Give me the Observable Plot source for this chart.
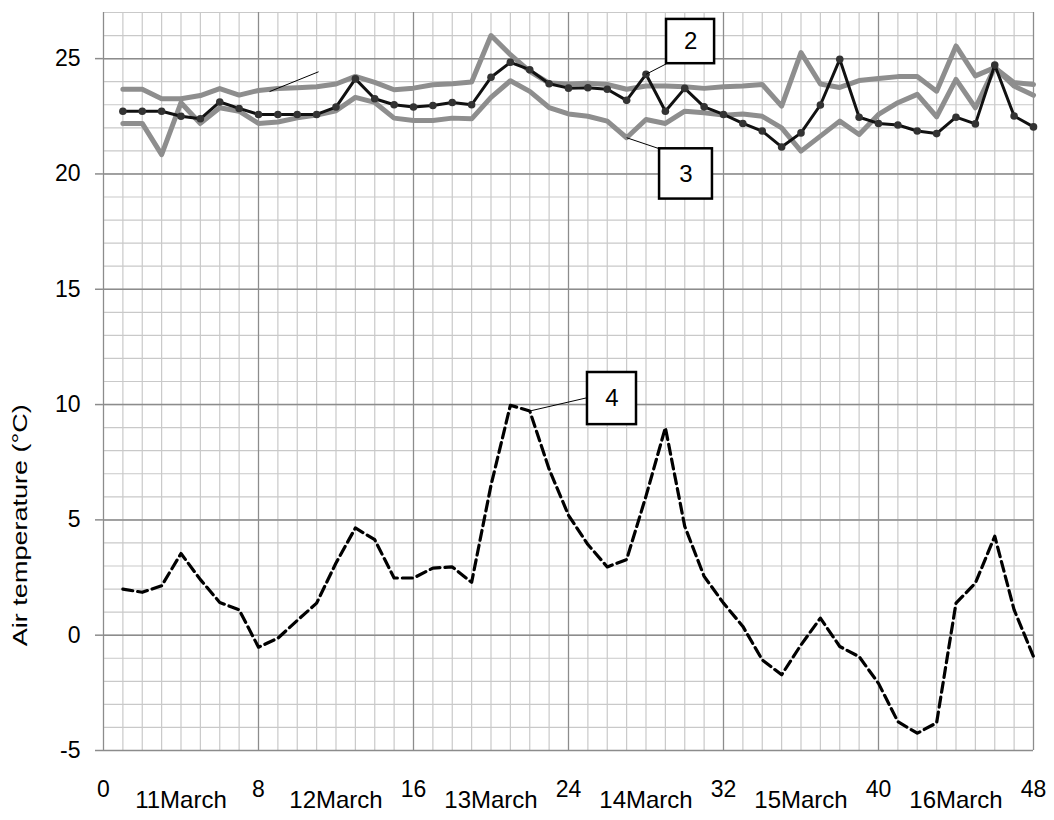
<!DOCTYPE html>
<html>
<head>
<meta charset="utf-8">
<script src="https://cdn.jsdelivr.net/npm/d3@7"></script>
<script src="https://cdn.jsdelivr.net/npm/@observablehq/plot@0.6"></script>
<style>
  html, body { margin: 0; padding: 0; background: #fff; }
  #chart { width: 1054px; height: 820px; }
</style>
</head>
<body>
<div id="chart"></div>
<script>
// ---- data (hours 1..48, 11–16 March) ----
const hours = d3.range(1, 49);

// series 1: upper grey line
const series1 = [23.67, 23.67, 23.26, 23.26, 23.4, 23.7, 23.42, 23.62, 23.7, 23.74, 23.78, 23.9,
                 24.23, 23.97, 23.65, 23.72, 23.87, 23.91, 23.99, 26.0, 25.17, 24.45, 23.94, 23.9,
                 23.93, 23.88, 23.67, 23.81, 23.81, 23.78, 23.71, 23.78, 23.81, 23.88, 22.94, 25.26,
                 23.9, 23.75, 24.05, 24.14, 24.22, 24.22, 23.59, 25.55, 24.25, 24.61, 23.96, 23.88];
// series 2: black line with markers
const series2 = [22.72, 22.72, 22.72, 22.5, 22.39, 23.12, 22.84, 22.58, 22.58, 22.58, 22.58, 22.9,
                 24.12, 23.26, 23.0, 22.9, 22.97, 23.1, 23.0, 24.19, 24.84, 24.52, 23.91, 23.72,
                 23.74, 23.67, 23.19, 24.32, 22.72, 23.71, 22.91, 22.58, 22.19, 21.86, 21.17, 21.78,
                 22.99, 24.97, 22.46, 22.19, 22.12, 21.86, 21.75, 22.46, 22.17, 24.72, 22.51, 22.04];
// series 3: lower grey line
const series3 = [22.19, 22.19, 20.84, 23.09, 22.19, 22.87, 22.72, 22.19, 22.25, 22.43, 22.55, 22.74,
                 23.32, 23.1, 22.42, 22.32, 22.32, 22.42, 22.39, 23.32, 24.04, 23.58, 22.88, 22.6,
                 22.5, 22.29, 21.57, 22.36, 22.19, 22.72, 22.65, 22.55, 22.6, 22.5, 22.0, 20.99,
                 21.64, 22.29, 21.71, 22.58, 23.09, 23.45, 22.48, 24.1, 22.87, 24.61, 23.81, 23.41];
// series 4: outdoor air temperature (dashed)
const series4 = [2.0, 1.86, 2.14, 3.54, 2.41, 1.42, 1.1, -0.52, -0.13, 0.64, 1.39, 3.13,
                 4.65, 4.14, 2.48, 2.48, 2.91, 2.96, 2.29, 6.5, 9.97, 9.72, 7.2, 5.2,
                 3.93, 2.96, 3.28, 6.03, 9.0, 4.72, 2.55, 1.39, 0.38, -1.07, -1.72, -0.42,
                 0.74, -0.49, -0.93, -2.09, -3.75, -4.25, -3.8, 1.39, 2.26, 4.29, 1.1, -0.93];

const xTicks = [0, 8, 16, 24, 32, 40, 48];
const yTicks = [-5, 0, 5, 10, 15, 20, 25];
const dayLabels = ["11March", "12March", "13March", "14March", "15March", "16March"];
const dayCenters = [4, 12, 20, 28, 36, 44];
const yTitle = "Air temperature (°C)";
const yTitleAt = 4.77;

// callout boxes (labels 2, 3, 4) and their leader lines (the last leader has no box)
const boxLabels = ["2", "3", "4"];
const boxX1 = [29.06, 28.7, 24.98];
const boxX2 = [31.54, 31.43, 27.51];
const boxY1 = [24.78, 18.91, 9.13];
const boxY2 = [26.7, 21.09, 11.39];
const leadX1 = [28, 27, 22, 8.57];
const leadY1 = [24.32, 21.57, 9.72, 23.57];
const leadX2 = [29.06, 28.7, 24.98, 11.1];
const leadY2 = [24.78, 21.09, 10.3, 24.43];

// ---- build ----
const rows = (vals) => vals.map((v, i) => ({hour: hours[i], temp: v}));
const s1 = rows(series1), s2 = rows(series2), s3 = rows(series3), s4 = rows(series4);
const boxIdx = d3.range(boxLabels.length);
const leadIdx = d3.range(leadX1.length);
const plain = d => `${d}`;

const chart = Plot.plot({
  width: 1054,
  height: 820,
  marginLeft: 103,
  marginRight: 21,
  marginTop: 12,
  marginBottom: 70,
  style: {fontFamily: "'Liberation Sans', Arial, sans-serif", fontSize: "23px", background: "#fff", color: "#000"},
  x: {domain: [0, 48], ticks: xTicks, tickSize: 0, tickPadding: 30, label: null, tickFormat: plain},
  y: {domain: [-5, 27], ticks: yTicks, tickSize: 8, tickPadding: 15, label: null, tickFormat: plain},
  marks: [
    Plot.ruleX(d3.range(0, 49), {stroke: "#c9c9c9", strokeWidth: 1.2}),
    Plot.ruleY(d3.range(-5, 28), {stroke: "#c9c9c9", strokeWidth: 1.2}),
    Plot.ruleX(xTicks, {stroke: "#8c8c8c", strokeWidth: 1.2}),
    Plot.ruleY(yTicks, {stroke: "#8c8c8c", strokeWidth: 1.5}),
    Plot.line(s1, {x: "hour", y: "temp", stroke: "#8e8e8e", strokeWidth: 5, strokeLinejoin: "round", strokeLinecap: "round"}),
    Plot.line(s3, {x: "hour", y: "temp", stroke: "#8e8e8e", strokeWidth: 5, strokeLinejoin: "round", strokeLinecap: "round"}),
    Plot.line(s2, {x: "hour", y: "temp", stroke: "#111", strokeWidth: 3, strokeLinejoin: "round"}),
    Plot.dot(s2, {x: "hour", y: "temp", r: 3.8, fill: "#333", stroke: "none"}),
    Plot.line(s4, {x: "hour", y: "temp", stroke: "#000", strokeWidth: 3.2, strokeDasharray: "10,5"}),
    Plot.link(leadIdx, {x1: i => leadX1[i], y1: i => leadY1[i], x2: i => leadX2[i], y2: i => leadY2[i], stroke: "#000", strokeWidth: 1}),
    Plot.rect(boxIdx, {x1: i => boxX1[i], x2: i => boxX2[i], y1: i => boxY1[i], y2: i => boxY2[i], fill: "#fff", stroke: "#000", strokeWidth: 2.5}),
    Plot.text(boxIdx, {x: i => (boxX1[i] + boxX2[i]) / 2, y: i => (boxY1[i] + boxY2[i]) / 2, text: i => boxLabels[i],
                       fontSize: 24, fontWeight: i => (i === 2 ? "bold" : "normal"), fill: "#000"}),
    Plot.text(dayLabels, {x: (d, i) => dayCenters[i], text: d => d, frameAnchor: "bottom", dy: 57, fontSize: 24, fill: "#000"}),
    Plot.text([yTitle], {text: d => d, y: () => yTitleAt, frameAnchor: "left", textAnchor: "middle", dx: -83, rotate: -90, fontSize: 21, fill: "#000"})
  ]
});

document.getElementById("chart").appendChild(chart);
d3.select(chart).selectAll('[aria-label="y-axis tick"] path, [aria-label="y-axis tick"] line').attr("stroke", "#8c8c8c").attr("stroke-width", 1.5);
d3.select(chart).selectAll("text").filter(function() { return this.textContent === yTitle; })
  .attr("textLength", 242).attr("lengthAdjust", "spacingAndGlyphs");
</script>
</body>
</html>
